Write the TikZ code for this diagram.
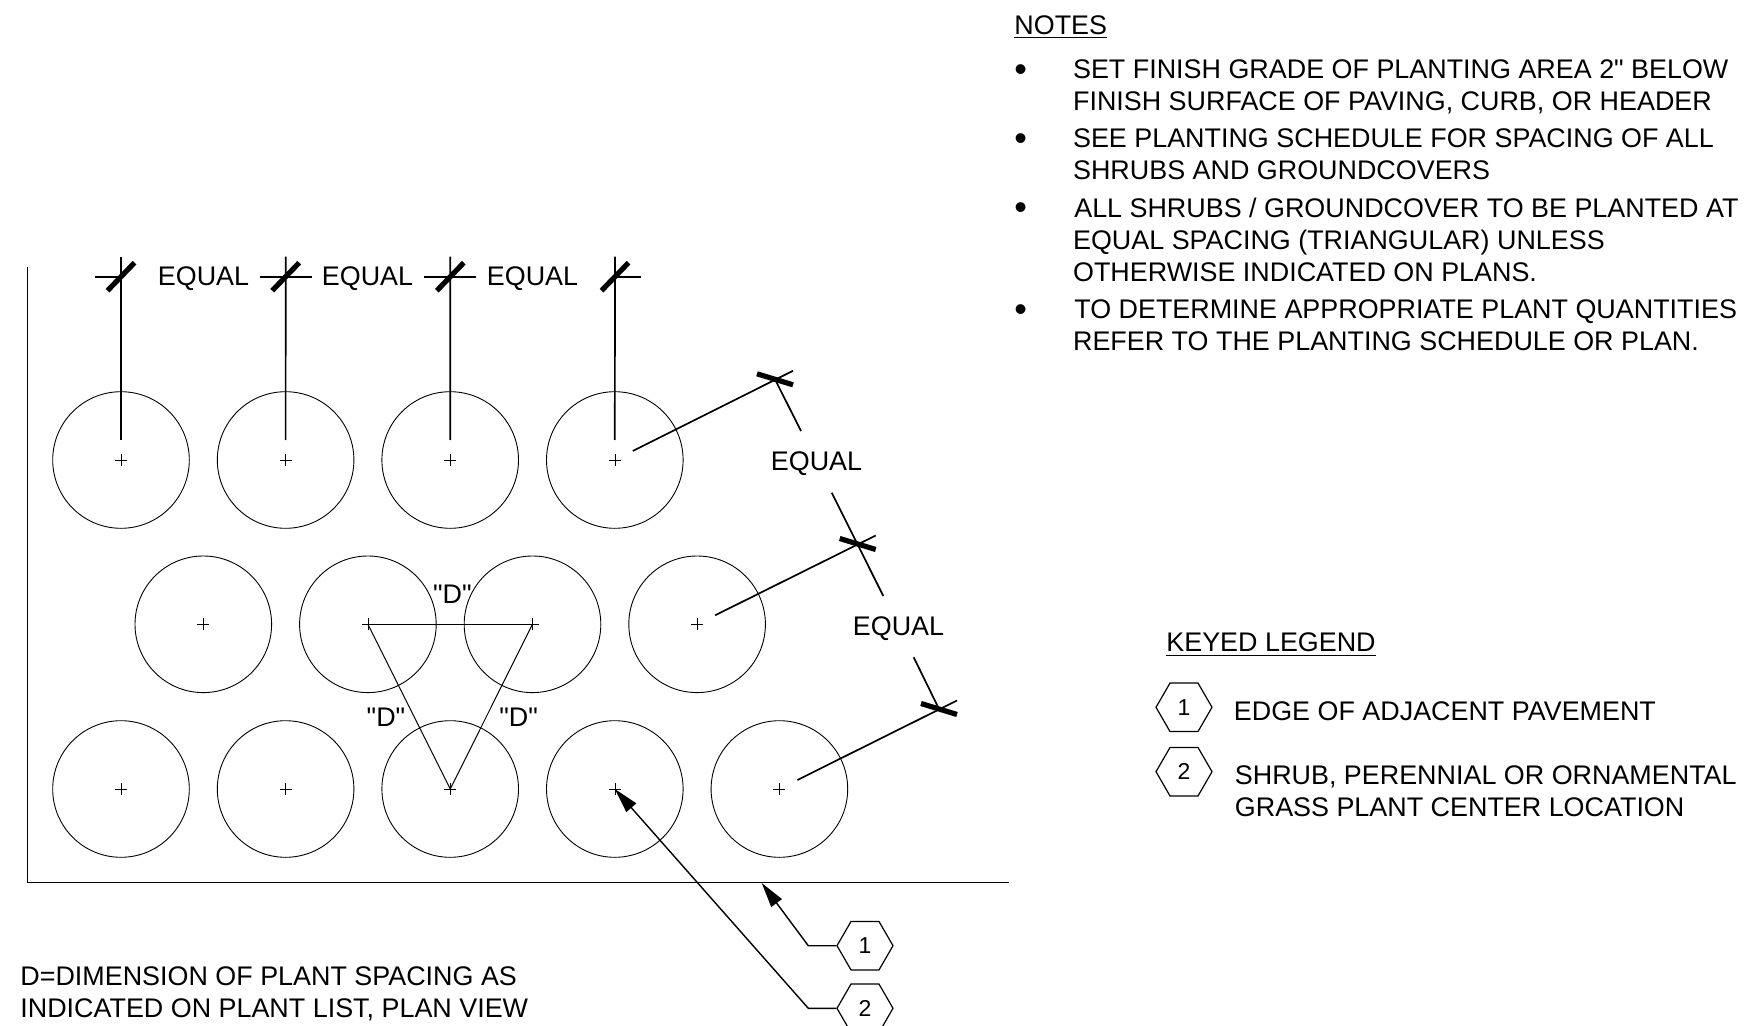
\documentclass[tikz,border=0pt]{standalone}
\usepackage{fontspec}
\setmainfont{Liberation Sans}
\usetikzlibrary{arrows.meta,shapes.geometric,positioning}
\tikzset{
  plant/.style={circle, draw, line width=0.45pt, inner sep=0pt, minimum size=68.3pt,
    path picture={
      \draw[line width=0.3pt] ([xshift=-3pt]path picture bounding box.center) -- ([xshift=3pt]path picture bounding box.center);
      \draw[line width=0.3pt] ([yshift=-3pt]path picture bounding box.center) -- ([yshift=3pt]path picture bounding box.center);
    }},
  dimline/.style={line width=0.85pt},
  slash/.style={line width=2.6pt},
  wall/.style={line width=0.65pt},
  leader/.style={line width=0.7pt, -{Stealth[length=12.5pt,width=6.5pt,inset=0pt]}},
  keyhex/.style={regular polygon, regular polygon sides=6, draw, line width=0.6pt,
    inner sep=0pt, minimum size=28pt, font=\fontsize{11.5}{12}\selectfont},
  lbl/.style={inner sep=0pt, font=\fontsize{13.45}{16}\selectfont},
  note/.style={lbl, anchor=west, align=left},
  dot/.style={inner sep=0pt, font=\fontsize{18}{18}\selectfont},
}
\begin{document}
\begin{tikzpicture}[x=0.5pt, y=-0.5pt, node distance=82.3pt]
\useasboundingbox (0,0) rectangle (1750,1026);
% plants
\node[plant] (P11) at (121,460) {};
\node[plant, right of=P11] (P12) {};
\node[plant, right of=P12] (P13) {};
\node[plant, right of=P13] (P14) {};
\node[plant] (P21) at (203.3,624.3) {};
\node[plant, right of=P21] (P22) {};
\node[plant, right of=P22] (P23) {};
\node[plant, right of=P23] (P24) {};
\node[plant] (P31) at (121,789) {};
\node[plant, right of=P31] (P32) {};
\node[plant, right of=P32] (P33) {};
\node[plant, right of=P33] (P34) {};
\node[plant, right of=P34] (P35) {};
% edge of pavement
\coordinate (W0) at (27.5,267);
\coordinate (W1) at (27.5,882.3);
\coordinate (W2) at (1009,882.3);
\draw[wall] (W0) -- (W1) -- (W2);
% top dimension
\coordinate (T1) at (121,276.7);
\coordinate (T2) at (285.7,276.7);
\coordinate (T3) at (450.3,276.7);
\coordinate (T4) at (615,276.7);
\draw[dimline] ([yshift=10pt]P11.center) -- ([yshift=10pt]T1);
\draw[dimline] ([yshift=10pt]P12.center) -- ([yshift=10pt]T2);
\draw[dimline] ([yshift=10pt]P13.center) -- ([yshift=10pt]T3);
\draw[dimline] ([yshift=10pt]P14.center) -- ([yshift=10pt]T4);
\draw[dimline] ([xshift=-13pt]T1) -- (T1);
\draw[dimline] ([xshift=-13pt]T2) -- ([xshift=13pt]T2);
\draw[dimline] ([xshift=-13pt]T3) -- ([xshift=13pt]T3);
\draw[dimline] (T4) -- ([xshift=13pt]T4);
\draw[slash] (T1) +(-13.5,14) -- +(13.5,-14);
\draw[slash] (T2) +(-13.5,14) -- +(13.5,-14);
\draw[slash] (T3) +(-13.5,14) -- +(13.5,-14);
\draw[slash] (T4) +(-13.5,14) -- +(13.5,-14);
\node[lbl, anchor=west] (EQ1) at (157.5,279) {EQUAL};
\node[lbl, anchor=west] (EQ2) at (321.5,279) {EQUAL};
\node[lbl, anchor=west] (EQ3) at (486.5,279) {EQUAL};
% right dimension
\coordinate (R1) at (775,379.3);
\coordinate (R2) at (857.7,544);
\coordinate (R3) at (939,709);
\coordinate (X1) at (801,431);
\coordinate (X2) at (831.7,492.7);
\coordinate (X3) at (883.3,596);
\coordinate (X4) at (913.7,657.3);
\draw[dimline] ([shift={(18,-9)}]P14.center) -- ([shift={(18,-8.5)}]R1);
\draw[dimline] ([shift={(18,-9)}]P24.center) -- ([shift={(18,-8.5)}]R2);
\draw[dimline] ([shift={(18,-9)}]P35.center) -- ([shift={(18,-8.5)}]R3);
\draw[dimline] (R1) -- (X1);
\draw[dimline] (X2) -- (X3);
\draw[dimline] (X4) -- (R3);
\draw[slash] (R1) +(-18,-5.5) -- +(18,5.5);
\draw[slash] (R2) +(-18,-5.5) -- +(18,5.5);
\draw[slash] (R3) +(-18,-5.5) -- +(18,5.5);
\node[lbl, anchor=west] (EQ4) at (770.5,464) {EQUAL};
\node[lbl, anchor=west] (EQ5) at (852.5,629) {EQUAL};
% spacing triangle
\draw[dimline, line width=0.5pt] ([xshift=-2.7pt]P22.center) -- ([xshift=3pt]P23.center);
\draw[dimline, line width=0.5pt] (P22.center) -- (P33.center) -- (P23.center);
\node[lbl] (D1) at (452.3,594.5) {\textquotedbl D\textquotedbl};
\node[lbl] (D2) at (386,717.5) {\textquotedbl D\textquotedbl};
\node[lbl] (D3) at (518.7,717.5) {\textquotedbl D\textquotedbl};
% leaders
\node[keyhex] (H1) at (865,945.7) {1};
\node[keyhex] (H2) at (865,1008.3) {2};
\coordinate (J1) at (808.3,945.7);
\coordinate (J2) at (808.3,1008.3);
\coordinate (E1) at (761.7,883);
\draw[leader] (H1.west) -- (J1) -- (E1);
\draw[leader] (H2.west) -- (J2) -- (P34.center);
\node[note] (spacing) at (20,993.5) {D=DIMENSION OF PLANT SPACING AS\\INDICATED ON PLANT LIST, PLAN VIEW};
% notes
\node[lbl, anchor=west] (notes) at (1014,27) {\underline{NOTES}};
\node[dot] (B1) at (1020.6,73.5) {•};
\node[dot] (B2) at (1020.6,142) {•};
\node[dot] (B3) at (1020.6,211.5) {•};
\node[dot] (B4) at (1020.6,313) {•};
\node[note] (N1) at (1072.7,86.7) {SET FINISH GRADE OF PLANTING AREA 2\textquotedbl{} BELOW\\FINISH SURFACE OF PAVING, CURB, OR HEADER};
\node[note] (N2) at (1072.7,154.2) {SEE PLANTING SCHEDULE FOR SPACING OF ALL\\SHRUBS AND GROUNDCOVERS};
\node[note] (N3) at (1072.7,240) {\hspace*{0.6pt}ALL SHRUBS / GROUNDCOVER TO BE PLANTED AT\\EQUAL SPACING (TRIANGULAR) UNLESS\\OTHERWISE INDICATED ON PLANS.};
\node[note] (N4) at (1072.7,325) {\hspace*{0.6pt}TO DETERMINE APPROPRIATE PLANT QUANTITIES\\REFER TO THE PLANTING SCHEDULE OR PLAN.};
% keyed legend
\node[lbl, anchor=west] (legend) at (1166,644.7) {\underline{KEYED LEGEND}};
\node[keyhex] (K1) at (1184,707.3) {1};
\node[keyhex] (K2) at (1184,771.7) {2};
\node[note] (L1) at (1233.5,711.5) {EDGE OF ADJACENT PAVEMENT};
\node[note] (L2) at (1234.5,791) {SHRUB, PERENNIAL OR ORNAMENTAL\\GRASS PLANT CENTER LOCATION};
\end{tikzpicture}
\end{document}
